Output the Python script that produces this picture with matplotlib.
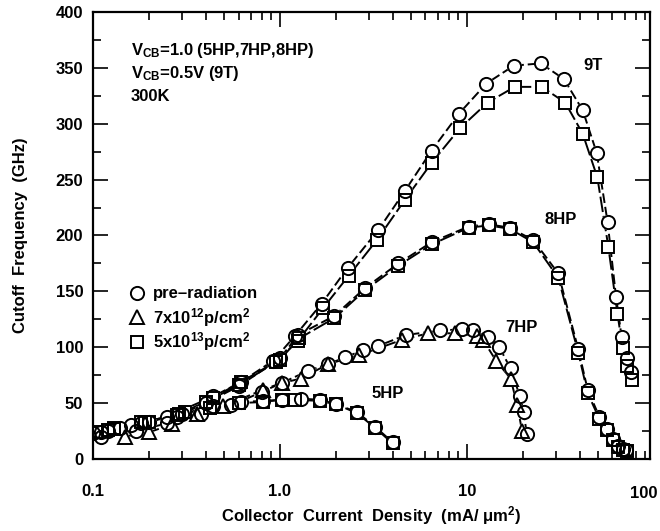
import numpy as np
import matplotlib
matplotlib.use("Agg")
import matplotlib.pyplot as plt
from matplotlib.ticker import MultipleLocator, LogLocator, NullFormatter

plt.rcParams['font.family'] = ['Liberation Sans', 'DejaVu Sans']
plt.rcParams['font.weight'] = 'bold'
plt.rcParams['mathtext.fontset'] = 'custom'
plt.rcParams['mathtext.rm'] = 'Liberation Sans:bold'
plt.rcParams['mathtext.bf'] = 'Liberation Sans:bold'
plt.rcParams['mathtext.it'] = 'Liberation Sans:bold'

# 9T
t9_pre_x = [0.11, 0.16, 0.25, 0.44, 0.62, 0.92, 1.2, 1.67, 2.3, 3.36, 4.66, 6.47, 9.06, 12.7, 17.8, 24.8, 33.0, 41.6, 49.4, 56.5, 62.7, 67.2, 71.5, 75]
t9_pre_y = [24, 30, 38, 56, 69, 88, 110, 139, 171, 205, 240, 276, 309, 336, 352, 354, 340, 312, 274, 212, 145, 109, 90, 78]
t9_rad_x = [0.13, 0.2, 0.31, 0.44, 0.62, 0.95, 1.25, 1.7, 2.33, 3.3, 4.66, 6.47, 9.17, 12.9, 18.0, 25.1, 33.5, 41.6, 49.8, 57.0, 63.8, 68.0, 72.0, 76.0]
t9_rad_y = [27, 33, 42, 55, 69, 87, 106, 135, 164, 196, 232, 265, 296, 319, 333, 333, 319, 291, 252, 190, 130, 99, 83, 71]

# 8HP
hp8_pre_x = [0.12, 0.18, 0.28, 0.4, 0.6, 1.0, 1.25, 1.95, 2.85, 4.3, 6.47, 10.2, 13.1, 16.9, 22.6, 30.8, 39.4, 44.2, 51.0, 55.9, 60.4, 64.1, 68.0, 71.0]
hp8_pre_y = [25, 32, 38, 50, 65, 90, 111, 128, 153, 175, 194, 208, 210, 207, 196, 166, 98, 62, 38, 27, 18, 12, 9, 8]
hp8_rad_x = [0.12, 0.18, 0.28, 0.4, 0.6, 1.0, 1.27, 1.95, 2.85, 4.3, 6.47, 10.2, 13.1, 16.9, 22.6, 30.8, 39.4, 44.2, 51.0, 55.9, 60.4, 64.1, 68.0, 72.0]
hp8_rad_y = [26, 33, 39, 51, 66, 89, 108, 126, 151, 173, 192, 207, 209, 206, 194, 162, 95, 59, 36, 26, 17, 11, 8, 7]

# 7HP
hp7_pre_x = [0.11, 0.17, 0.25, 0.38, 0.55, 0.8, 1.02, 1.42, 1.81, 2.24, 2.78, 3.33, 4.73, 7.16, 9.35, 10.8, 12.96, 14.9, 17.1, 19.2, 20.1, 20.9]
hp7_pre_y = [20, 25, 32, 40, 48, 60, 68, 79, 85, 91, 97.5, 101, 111, 115, 116, 115, 109, 100, 81, 56, 42, 22]
hp7_rad_x = [0.148, 0.2, 0.264, 0.358, 0.497, 0.81, 1.02, 1.3, 1.81, 2.66, 4.47, 6.2, 8.62, 11.3, 12.2, 14.3, 17.1, 18.6, 19.7]
hp7_rad_y = [20, 24, 31, 40, 47, 62, 68, 72, 85, 93, 106.5, 112.5, 112.5, 110, 106.5, 88, 72, 48, 25]

# 5HP
hp5_pre_x = [0.1, 0.14, 0.2, 0.3, 0.44, 0.62, 0.81, 1.02, 1.3, 1.63, 2.0, 2.58, 3.22, 4.0]
hp5_pre_y = [23, 28, 33, 40, 47, 51, 52, 53, 54, 53, 49, 42, 29, 15]
hp5_rad_x = [0.105, 0.13, 0.19, 0.29, 0.42, 0.6, 0.81, 1.02, 1.21, 1.63, 2.0, 2.58, 3.22, 4.0]
hp5_rad_y = [24, 28, 33, 40, 46, 50, 51, 53, 53, 52, 49, 41, 28, 14]

series = [
    (t9_pre_x, t9_pre_y, 'o', (0, (5, 2))),
    (t9_rad_x, t9_rad_y, 's', (0, (8, 2))),
    (hp8_pre_x, hp8_pre_y, 'o', (0, (5, 2))),
    (hp8_rad_x, hp8_rad_y, 's', (0, (8, 2))),
    (hp7_pre_x, hp7_pre_y, 'o', (0, (5, 2))),
    (hp7_rad_x, hp7_rad_y, '^', (0, (8, 2))),
    (hp5_pre_x, hp5_pre_y, 'o', (0, (5, 2))),
    (hp5_rad_x, hp5_rad_y, 's', (0, (8, 2))),
]
msize = {'o': 9.5, 's': 9, '^': 10}

fig = plt.figure(figsize=(6.6, 5.31), dpi=100)
ax = fig.add_axes([0.1409, 0.1356, 0.8439, 0.8418])

# lines first, then white-filled markers to hide the lines, then outlines
for x, y, m, ls in series:
    ax.plot(x, y, color='black', lw=1.4, ls=ls, zorder=1)
for x, y, m, ls in series:
    ax.plot(x, y, ls='none', marker=m, ms=msize[m], mfc='white', mec='white', mew=1.4, zorder=2)
for x, y, m, ls in series:
    ax.plot(x, y, ls='none', marker=m, ms=msize[m], mfc='none', mec='black', mew=1.4, zorder=3)

ax.set_xscale('log')
ax.set_xlim(0.1, 95.2)
ax.set_ylim(0, 400)

ax.set_xticks([0.1, 1, 10])
ax.set_xticklabels(['0.1', '1.0', '10'])
ax.xaxis.set_minor_locator(LogLocator(base=10, subs=np.arange(2, 10)))
ax.xaxis.set_minor_formatter(NullFormatter())
ax.yaxis.set_major_locator(MultipleLocator(50))
ax.yaxis.set_minor_locator(MultipleLocator(25))
ax.text(0.988, -0.0775, '100', transform=ax.transAxes, ha='center', va='center',
        fontsize=12, fontweight='bold')

ax.tick_params(which='both', direction='in', top=True, right=True, width=1.2, labelsize=12)
ax.tick_params(which='major', length=11)
ax.tick_params(which='minor', length=6)
ax.tick_params(axis='x', which='major', pad=18)
ax.tick_params(axis='y', which='major', pad=7)
for lab in ax.get_xticklabels() + ax.get_yticklabels():
    lab.set_fontweight('bold')
for sp in ax.spines.values():
    sp.set_linewidth(1.6)

ax.set_xlabel(r'Collector  Current  Density  (mA/ $\mu$m$^{2}$)', fontsize=12, fontweight='bold', labelpad=4)
ax.set_ylabel('Cutoff  Frequency  (GHz)', fontsize=12, fontweight='bold', labelpad=20)

ax.text(0.068, 0.913, r'V$_{\mathrm{CB}}$=1.0 (5HP,7HP,8HP)', transform=ax.transAxes, fontsize=12, va='center')
ax.text(0.068, 0.862, r'V$_{\mathrm{CB}}$=0.5V (9T)', transform=ax.transAxes, fontsize=12, va='center')
ax.text(0.068, 0.811, '300K', transform=ax.transAxes, fontsize=12, va='center')

ax.text(41.7, 352, '9T', fontsize=12, va='center')
ax.text(26.1, 214, '8HP', fontsize=12, va='center')
ax.text(16.0, 118, '7HP', fontsize=12, va='center')
ax.text(3.1, 59, '5HP', fontsize=12, va='center')

# legend drawn by hand to match the placement
leg_items = [('o', 'pre\u2013radiation'), ('^', r'7x10$^{12}$p/cm$^{2}$'), ('s', r'5x10$^{13}$p/cm$^{2}$')]
for i, (m, lab) in enumerate(leg_items):
    yy = 148.5 - i * 21.8
    ax.plot([0.172], [yy], ls='none', marker=m, ms=msize[m], mfc='none', mec='black', mew=1.4)
    ax.text(0.2094, yy, lab, fontsize=12, va='center')

fig.savefig('out.png', dpi=100)
